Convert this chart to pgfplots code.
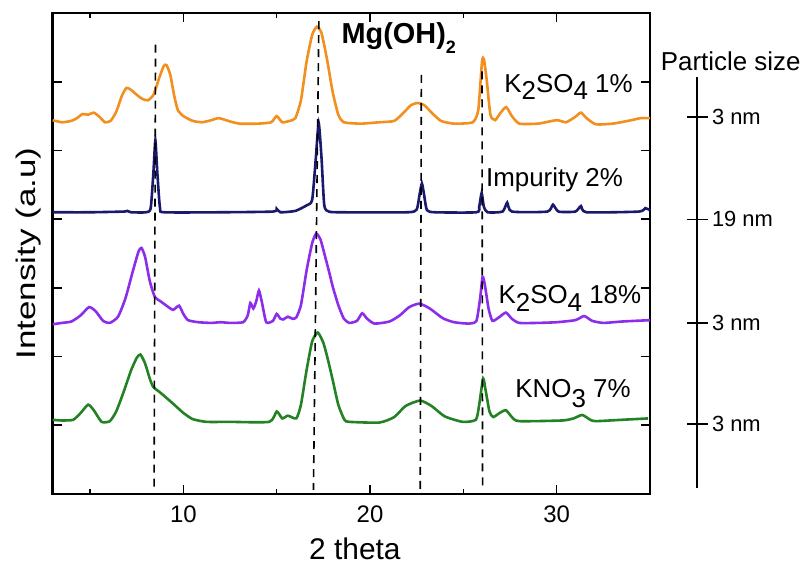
\documentclass[border=0pt]{standalone}
\usepackage{fontspec}
\setmainfont{Liberation Sans}
\newfontfamily\ylabfont[FakeStretch=1.3]{Liberation Sans}
\usepackage{pgfplots}
\pgfplotsset{compat=1.18}
\definecolor{corange}{RGB}{243,143,30}
\definecolor{cnavy}{RGB}{25,25,110}
\definecolor{cpurple}{RGB}{140,45,235}
\definecolor{cgreen}{RGB}{35,130,35}
\begin{document}
\begin{tikzpicture}
\useasboundingbox (-52.7bp,-73bp) rectangle (752.3bp,494bp);
\begin{axis}[
  at={(0,0)}, anchor=south west, scale only axis,
  width=597.3bp, height=481bp,
  xmin=3, xmax=35, ymin=0, ymax=7,
  xtick={10,20,30}, minor xtick={5,15,25},
  ytick={1,2,3,4,5,6}, yticklabels={},
  tick align=inside, major tick length=9bp, minor tick length=5bp,
  every tick/.style={line width=1.6bp, black},
  axis line style={line width=2.4bp},
  /pgf/number format/assume math mode=true,
  tick label style={font=\fontsize{24}{24}\selectfont},
  xticklabel style={yshift=-8bp},
  xlabel={2 theta},
  xlabel style={font=\fontsize{30}{30}\selectfont, at={(axis description cs:0.506,-0.136)}, anchor=base},
  ylabel={Intensity (a.u)},
  ylabel style={font=\ylabfont\fontsize{27}{27}\selectfont, at={(axis description cs:-0.0296,0.5)}, anchor=base},
  clip=false, no markers,
  every axis plot/.append style={line width=2.6bp, smooth, tension=0.35},
]
% K2SO4 1%
\addplot[corange] coordinates {
(3.0,5.44) (3.5,5.41) (4.0,5.43) (4.3,5.47) (4.6,5.53) (4.9,5.52) (5.2,5.55) (5.5,5.49)
(5.8,5.41) (6.1,5.43) (6.4,5.56) (6.7,5.79) (6.95,5.91) (7.2,5.88) (7.5,5.81) (7.8,5.75)
(8.1,5.73) (8.4,5.81) (8.7,6.05) (8.95,6.23) (9.1,6.24) (9.3,6.10) (9.5,5.81) (9.7,5.59)
(10.0,5.50) (10.5,5.43) (11.0,5.41) (11.5,5.44) (11.9,5.47) (12.4,5.43) (13.0,5.39)
(14.0,5.39) (14.7,5.41) (15.0,5.50) (15.3,5.41) (15.7,5.43) (16.0,5.47) (16.3,5.73)
(16.6,6.29) (16.9,6.68) (17.15,6.80) (17.4,6.71) (17.7,6.32) (18.0,5.85) (18.3,5.52)
(18.6,5.41) (19.5,5.39) (20.5,5.41) (21.3,5.43) (21.8,5.55) (22.2,5.66) (22.55,5.69)
(22.9,5.66) (23.3,5.55) (23.8,5.43) (24.5,5.39) (25.5,5.41) (25.8,5.59) (26.0,6.29)
(26.1,6.33) (26.25,6.03) (26.45,5.52) (26.7,5.44) (27.0,5.55) (27.3,5.63) (27.6,5.50)
(28.0,5.39) (29.0,5.39) (30.0,5.44) (30.5,5.41) (31.0,5.49) (31.3,5.55) (31.6,5.47)
(32.1,5.38) (33.0,5.39) (34.0,5.44) (34.5,5.47) (35.0,5.47)
};
% Impurity 2%
\addplot[cnavy] coordinates {
(3.0,4.10) (5.0,4.10) (6.8,4.11) (7.0,4.12) (7.2,4.10) (8.0,4.10) (8.25,4.16) (8.4,4.70)
(8.5,5.15) (8.6,4.70) (8.75,4.16) (9.0,4.10) (12.0,4.10) (14.8,4.11) (15.0,4.15) (15.2,4.10)
(16.0,4.12) (16.6,4.20) (16.9,4.28) (17.1,4.90) (17.25,5.40) (17.4,4.90) (17.55,4.20)
(17.8,4.11) (18.5,4.10) (22.0,4.10) (22.5,4.14) (22.65,4.35) (22.78,4.52) (22.9,4.35)
(23.05,4.13) (23.5,4.10) (25.7,4.10) (25.85,4.18) (25.98,4.38) (26.1,4.18) (26.3,4.10)
(27.1,4.11) (27.35,4.24) (27.6,4.11) (29.5,4.11) (29.8,4.21) (30.1,4.11) (31.0,4.11)
(31.3,4.19) (31.6,4.10) (34.4,4.11) (34.75,4.16) (35.0,4.13)
};
% K2SO4 18%
\addplot[cpurple] coordinates {
(3.0,2.47) (3.5,2.49) (4.0,2.51) (4.5,2.60) (4.95,2.72) (5.3,2.66) (5.7,2.52) (6.06,2.49)
(6.5,2.58) (6.9,2.85) (7.3,3.25) (7.6,3.53) (7.76,3.58) (7.95,3.45) (8.2,3.10) (8.47,2.87)
(8.8,2.80) (9.1,2.74) (9.45,2.68) (9.77,2.74) (10.0,2.62) (10.25,2.53) (10.8,2.50)
(11.5,2.49) (12.0,2.50) (12.5,2.49) (13.2,2.50) (13.45,2.60) (13.59,2.78) (13.75,2.70)
(13.9,2.80) (14.05,2.96) (14.2,2.80) (14.44,2.50) (14.8,2.52) (15.0,2.62) (15.2,2.55)
(15.35,2.54) (15.6,2.58) (15.85,2.55) (16.05,2.57) (16.3,2.75) (16.6,3.25) (16.9,3.65)
(17.12,3.79) (17.35,3.70) (17.6,3.45) (17.83,3.21) (18.0,3.02) (18.3,2.75) (18.6,2.55)
(18.9,2.49) (19.3,2.52) (19.58,2.63) (19.85,2.55) (20.24,2.48) (21.04,2.51) (21.6,2.60)
(22.1,2.72) (22.64,2.77) (23.2,2.70) (23.89,2.56) (24.5,2.50) (25.3,2.48) (25.7,2.52)
(25.9,2.85) (26.03,3.16) (26.15,3.05) (26.35,2.70) (26.56,2.52) (26.9,2.57) (27.28,2.64)
(27.6,2.55) (27.99,2.49) (29.0,2.49) (30.0,2.50) (31.0,2.53) (31.47,2.59) (31.9,2.52)
(32.5,2.49) (33.5,2.51) (35.0,2.53)
};
% KNO3 7%
\addplot[cgreen] coordinates {
(3.0,1.08) (3.5,1.07) (4.1,1.08) (4.5,1.18) (4.9,1.30) (5.2,1.22) (5.62,1.05) (6.06,1.06)
(6.4,1.20) (6.78,1.47) (7.2,1.80) (7.5,1.98) (7.7,2.03) (7.95,1.90) (8.2,1.68) (8.38,1.56)
(8.65,1.50) (8.92,1.44) (9.3,1.35) (9.63,1.27) (10.0,1.18) (10.5,1.09) (11.24,1.05)
(12.5,1.05) (14.6,1.05) (15.0,1.20) (15.3,1.10) (15.6,1.14) (16.05,1.10) (16.3,1.30)
(16.6,1.80) (16.9,2.22) (17.2,2.35) (17.5,2.20) (17.75,1.95) (18.0,1.66) (18.3,1.30)
(18.63,1.08) (18.9,1.05) (20.5,1.04) (21.3,1.12) (21.9,1.28) (22.68,1.36) (23.3,1.28)
(24.0,1.13) (24.96,1.05) (25.67,1.08) (25.85,1.30) (26.06,1.68) (26.2,1.50) (26.4,1.20)
(26.6,1.12) (26.95,1.18) (27.28,1.22) (27.6,1.12) (27.99,1.06) (30.3,1.07) (30.9,1.10)
(31.37,1.15) (31.8,1.08) (32.1,1.06) (33.5,1.08) (34.9,1.10)
};
% reference dashed lines
\addplot[black, line width=1.6bp, dash pattern=on 8bp off 6bp, sharp plot] coordinates {(8.51,6.54) (8.43,0.06)};
\addplot[black, line width=1.6bp, dash pattern=on 8bp off 6bp, sharp plot] coordinates {(17.26,6.88) (16.97,0.06)};
\addplot[black, line width=1.6bp, dash pattern=on 8bp off 6bp, sharp plot] coordinates {(22.75,6.10) (22.69,0.06)};
\addplot[black, line width=1.6bp, dash pattern=on 8bp off 6bp, sharp plot] coordinates {(26.0,6.15) (26.03,0.06)};
% labels
\node[anchor=base west, font=\bfseries\fontsize{29}{29}\selectfont, inner sep=0pt] at (axis cs:18.47,6.56) {Mg(OH)\raisebox{-10bp}{\fontsize{18}{18}\selectfont 2}};
\node[anchor=base west, font=\fontsize{26}{26}\selectfont, inner sep=0pt] at (axis cs:27.19,5.85) {K\raisebox{-7bp}{2}SO\raisebox{-7bp}{4} 1\%};
\node[anchor=base west, font=\fontsize{26}{26}\selectfont, inner sep=0pt] at (axis cs:26.21,4.47) {Impurity 2\%};
\node[anchor=base west, font=\fontsize{26}{26}\selectfont, inner sep=0pt] at (axis cs:26.88,2.775) {K\raisebox{-8bp}{2}SO\raisebox{-8bp}{4} 18\%};
\node[anchor=base west, font=\fontsize{26}{26}\selectfont, inner sep=0pt] at (axis cs:27.78,1.41) {KNO\raisebox{-10bp}{3} 7\%};
\node[anchor=base west, font=\fontsize{26}{26}\selectfont, inner sep=0pt] at (axis cs:35.57,6.17) {Particle size};
\end{axis}
% particle size axis
\begin{axis}[
  at={(643.3bp,6bp)}, anchor=south west, scale only axis,
  width=1bp, height=410.9bp,
  xmin=0, xmax=1, ymin=0.09, ymax=6.07,
  axis x line=none, axis y line*=right,
  ytick={1.02,2.49,4.0,5.49}, yticklabels={3 nm,3 nm,19 nm,3 nm},
  tick align=center, major tick length=21bp,
  every tick/.style={line width=1.6bp, black},
  axis line style={line width=2bp},
  yticklabel style={font=\fontsize{22}{22}\selectfont, anchor=west, xshift=1bp},
]
\addplot[draw=none] coordinates {(0,1) (1,1)};
\end{axis}
\end{tikzpicture}
\end{document}
